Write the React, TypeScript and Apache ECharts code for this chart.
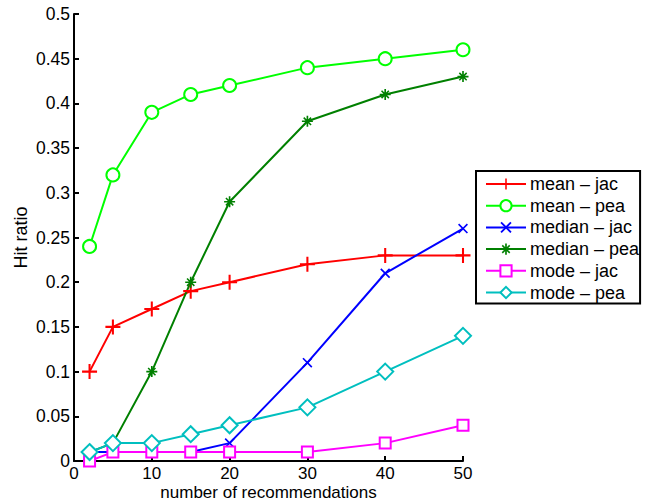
import React, { useEffect, useRef } from "react";
import * as echarts from "echarts";

const xValues = [2, 5, 10, 15, 20, 30, 40, 50];
const meanJac = [0.1, 0.15, 0.17, 0.19, 0.2, 0.22, 0.23, 0.23];
const meanPea = [0.24, 0.32, 0.39, 0.41, 0.42, 0.44, 0.45, 0.46];
const medianJac = [0.01, 0.01, 0.01, 0.01, 0.02, 0.11, 0.21, 0.26];
const medianPea = [0.01, 0.02, 0.1, 0.2, 0.29, 0.38, 0.41, 0.43];
const modeJac = [0, 0.01, 0.01, 0.01, 0.01, 0.01, 0.02, 0.04];
const modePea = [0.01, 0.02, 0.02, 0.03, 0.04, 0.06, 0.1, 0.14];
const seriesNames = ["mean – jac", "mean – pea", "median – jac", "median – pea", "mode – jac", "mode – pea"];

const PLUS = "path://M6.9,0 H9.1 V16 H6.9 Z M0,6.9 H16 V9.1 H0 Z";
const CROSS = "path://M0,1.4 L1.4,0 L12,10.6 L10.6,12 Z M10.6,0 L12,1.4 L1.4,12 L0,10.6 Z";
const STAR =
  "path://M5.1,0 H6.9 V12 H5.1 Z M0,5.1 H12 V6.9 H0 Z M1.4,2.6 L2.6,1.4 L10.6,9.4 L9.4,10.6 Z M9.4,1.4 L10.6,2.6 L2.6,10.6 L1.4,9.4 Z";

const FONT = "Liberation Sans";

export default function App() {
  const ref = useRef<HTMLDivElement>(null);
  useEffect(() => {
    if (!ref.current) return;
    const chart = echarts.init(ref.current, null, { renderer: "svg" });
    const mk = (name: string, data: number[], color: string, symbol: string, size: number, filledPath: boolean) => ({
      name,
      type: "line",
      data: xValues.map((x, i) => [x, data[i]]),
      symbol,
      symbolSize: size,
      showAllSymbol: true,
      lineStyle: { color, width: 2 },
      itemStyle: { color, borderColor: color, borderWidth: filledPath ? 0 : 2 },
      emphasis: { disabled: true },
    });
    chart.setOption({
      animation: false,
      backgroundColor: "#fff",
      textStyle: { fontFamily: FONT },
      grid: { left: 74, right: 188, top: 14, bottom: 43, containLabel: false, outerBoundsMode: "none" },
      xAxis: {
        type: "value",
        min: 0,
        max: 50,
        interval: 10,
        name: "number of recommendations",
        nameLocation: "middle",
        nameGap: 23,
        nameMoveOverlap: false,
        nameTextStyle: { fontSize: 17, lineHeight: 17, color: "#000", fontFamily: FONT },
        axisLine: { show: true, lineStyle: { color: "#000", width: 2 } },
        axisTick: { show: true, inside: true, length: 5, lineStyle: { color: "#000", width: 2 } },
        axisLabel: { fontSize: 17, lineHeight: 17, color: "#000", margin: 4, fontFamily: FONT },
        splitLine: { show: false },
      },
      yAxis: {
        type: "value",
        min: 0,
        max: 0.5,
        interval: 0.05,
        name: "Hit ratio",
        nameLocation: "middle",
        nameGap: 44,
        nameMoveOverlap: false,
        nameRotate: 90,
        nameTextStyle: { fontSize: 18, color: "#000", fontFamily: FONT },
        axisLine: { show: true, lineStyle: { color: "#000", width: 2 } },
        axisTick: { show: true, inside: true, length: 5, lineStyle: { color: "#000", width: 2 } },
        axisLabel: { fontSize: 17.5, color: "#000", margin: 4, fontFamily: FONT },
        splitLine: { show: false },
      },
      legend: {
        orient: "vertical",
        left: 476,
        top: 171,
        itemWidth: 40,
        itemHeight: 14,
        itemGap: 3.7,
        padding: [4, 1, 2, 9],
        borderColor: "#000",
        borderWidth: 2,
        backgroundColor: "#fff",
        selectedMode: false,
        textStyle: { fontSize: 18, lineHeight: 18, color: "#000", fontFamily: FONT, padding: [0, 0, 0, -1] },
        data: seriesNames,
      },
      series: [
        mk(seriesNames[0], meanJac, "#ff0000", PLUS, 15, true),
        mk(seriesNames[1], meanPea, "#00ff00", "emptyCircle", 13, false),
        mk(seriesNames[2], medianJac, "#0000ff", CROSS, 10, true),
        mk(seriesNames[3], medianPea, "#008000", STAR, 11, true),
        mk(seriesNames[4], modeJac, "#ff00ff", "emptyRect", 11, false),
        mk(seriesNames[5], modePea, "#00bfbf", "emptyDiamond", 16, false),
      ],
    });
    return () => chart.dispose();
  }, []);
  return <div ref={ref} style={{ width: 651, height: 504, position: "absolute", left: 0, top: 0 }} />;
}
